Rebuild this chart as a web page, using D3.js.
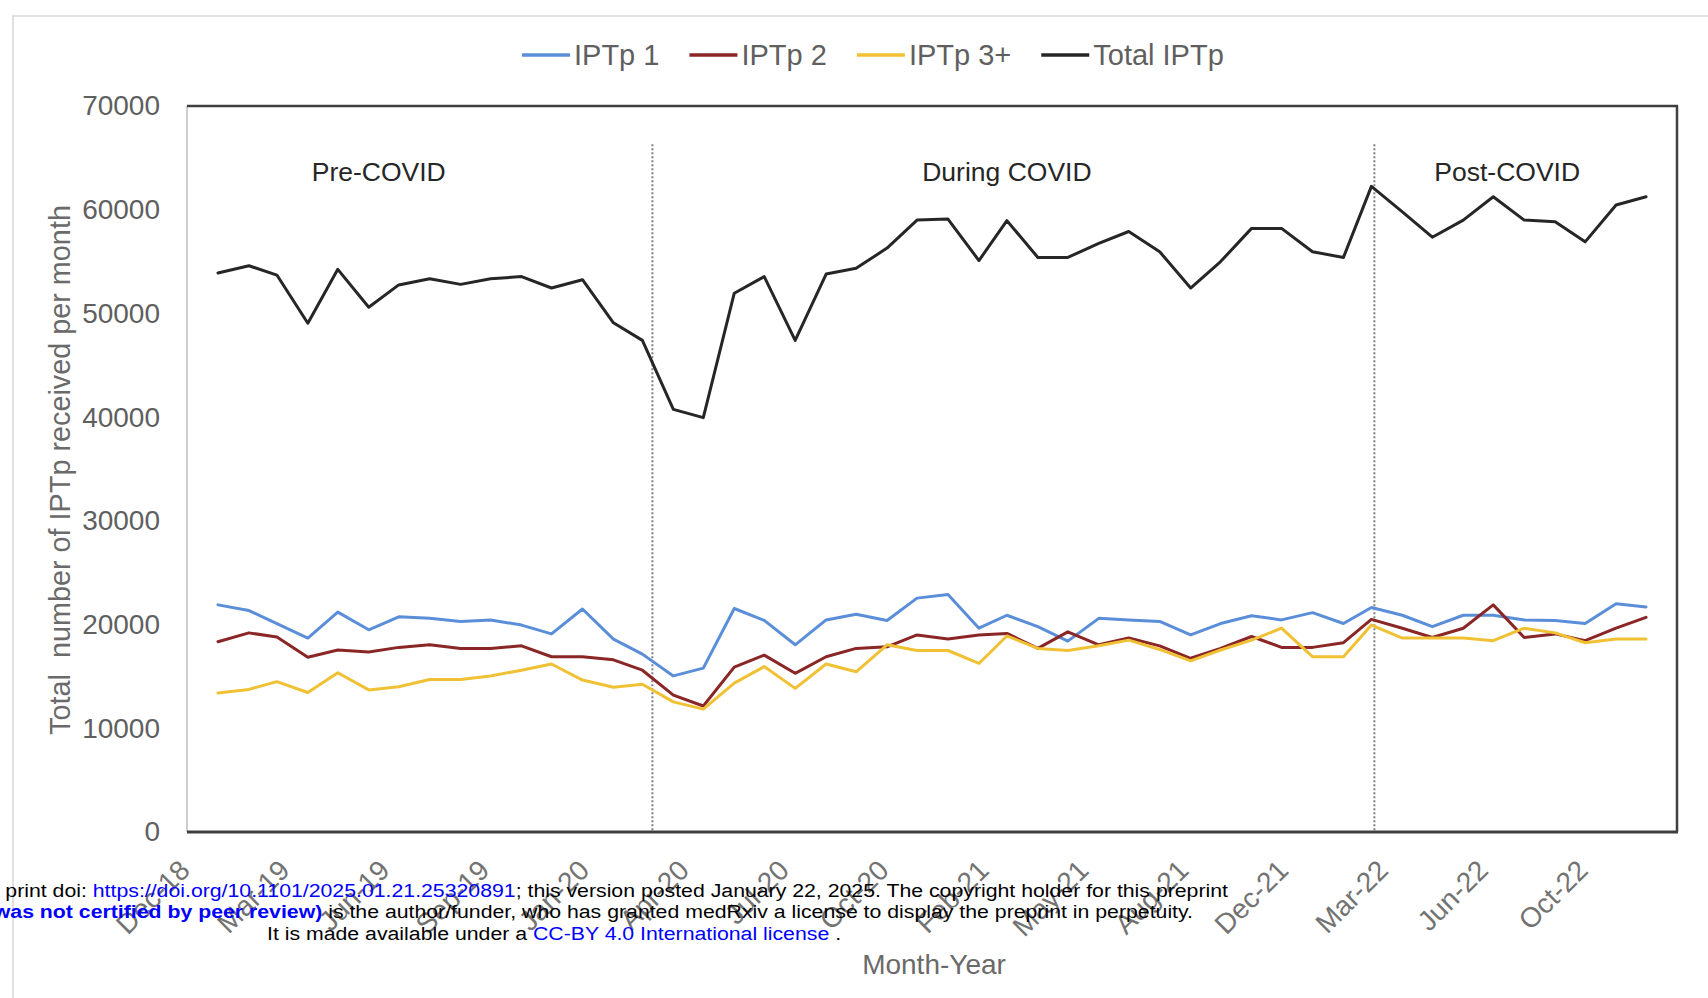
<!DOCTYPE html>
<html>
<head>
<meta charset="utf-8">
<script src="https://cdn.jsdelivr.net/npm/d3@7"></script>
<style>
  body { margin: 0; background: #fff; }
  text { font-family: "Liberation Sans", Arial, Helvetica, sans-serif; }
</style>
</head>
<body>
<svg id="chart" width="1708" height="998"></svg>
<script>
// ---------------- DATA ----------------
const months = [
  "Jan-19","Feb-19","Mar-19","Apr-19","May-19","Jun-19","Jul-19","Aug-19","Sep-19","Oct-19","Nov-19","Dec-19",
  "Jan-20","Feb-20","Mar-20","Apr-20","May-20","Jun-20","Jul-20","Aug-20","Sep-20","Oct-20","Nov-20","Dec-20",
  "Jan-21","Feb-21","Mar-21","Apr-21","May-21","Jun-21","Jul-21","Aug-21","Sep-21","Oct-21","Nov-21","Dec-21",
  "Jan-22","Feb-22","Mar-22","Apr-22","May-22","Jun-22","Jul-22","Aug-22","Sep-22","Oct-22","Nov-22","Dec-22"
];
const iptp1 = [21900,21350,20100,18700,21200,19500,20750,20600,20300,20450,19950,19100,
               21500,18600,17150,15050,15800,21550,20400,18050,20450,21000,20400,22550,
               22900,19650,20900,19800,18400,20600,20450,20300,19000,20100,20850,20450,
               21150,20100,21650,20900,19800,20900,20900,20450,20400,20100,22000,21700];
const iptp2 = [18350,19200,18800,16850,17550,17350,17800,18050,17700,17700,17950,16900,
               16900,16600,15600,13200,12150,15900,17050,15300,16900,17700,17850,19000,
               18600,19000,19150,17700,19300,18050,18700,17950,16750,17700,18850,17800,
               17800,18250,20500,19650,18750,19650,21900,18750,19100,18450,19650,20700];
const iptp3 = [13400,13750,14500,13450,15350,13700,14000,14700,14700,15050,15600,16200,
               14650,13950,14250,12550,11850,14350,15950,13850,16200,15450,18050,17500,
               17500,16250,18900,17700,17500,17950,18500,17600,16500,17550,18500,19650,
               16900,16900,19950,18700,18700,18700,18450,19650,19200,18250,18600,18600];
const totalIptp = [53900,54600,53700,49050,54250,50600,52750,53350,52800,53350,53550,52450,
               53250,49100,47400,40750,39950,51950,53550,47400,53800,54350,56300,59000,
               59100,55100,58950,55400,55400,56750,57900,55950,52450,55000,58200,58200,
               55950,55400,62250,59800,57350,59000,61250,59000,58850,56900,60450,61250];

const seriesNames  = ["IPTp 1", "IPTp 2", "IPTp 3+", "Total IPTp"];
const seriesColors = ["#5b8ed8", "#8b2626", "#f0c134", "#262626"];
const yTickValues  = [0, 10000, 20000, 30000, 40000, 50000, 60000, 70000];
const xTickLabels  = ["Dec-18","Mar-19","Jun-19","Sep-19","Jan-20","Apr-20","Jul-20","Oct-20",
                      "Feb-21","May-21","Aug-21","Dec-21","Mar-22","Jun-22","Oct-22"];
const xTickStepDays = 100;
const axisStart = "2018-12-01", axisEnd = "2023-01-01";
const periodNames = ["Pre-COVID", "During COVID", "Post-COVID"];
const periodLabelDates = ["2019-06-11", "2021-03-01", "2022-07-15"];
const periodBreakDates = ["2020-03-11", "2022-03-04"];
const periodLabelValue = 62800;
const periodLineTopValue = 66300;

// ---------------- SETUP ----------------
const svg = d3.select("#chart");
const W = 1708, H = 998;
const plot = { left: 187, right: 1677, top: 106, bottom: 832 };
const parseMonth = d3.utcParse("%b-%y");
const parseDay = d3.utcParse("%Y-%m-%d");
const dates = months.map(parseMonth);

const x = d3.scaleUtc().domain([parseDay(axisStart), parseDay(axisEnd)]).range([plot.left, plot.right]);
const y = d3.scaleLinear().domain([0, 70000]).range([plot.bottom, plot.top]);

svg.append("rect").attr("width", W).attr("height", H).attr("fill", "#fff");

// outer chart border (extends off canvas at right/bottom)
svg.append("rect").attr("x", 13).attr("y", 16).attr("width", 1720).attr("height", 1000)
  .attr("fill", "none").attr("stroke", "#d6d6d6").attr("stroke-width", 1.5);

// left frame line (light)
svg.append("line").attr("x1", plot.left).attr("x2", plot.left)
  .attr("y1", plot.top).attr("y2", plot.bottom)
  .attr("stroke", "#bdbdbd").attr("stroke-width", 1.5);

// period dividers
svg.append("g").selectAll("line").data(periodBreakDates).join("line")
  .attr("x1", d => x(parseDay(d))).attr("x2", d => x(parseDay(d)))
  .attr("y1", y(periodLineTopValue)).attr("y2", plot.bottom)
  .attr("stroke", "#808080").attr("stroke-width", 2).attr("stroke-dasharray", "2,2");

// period labels
svg.append("g").selectAll("text").data(periodNames).join("text")
  .attr("x", (d, i) => x(parseDay(periodLabelDates[i])))
  .attr("y", y(periodLabelValue))
  .attr("text-anchor", "middle").attr("font-size", 26.5).attr("fill", "#262626")
  .text(d => d);

// lines
const allSeries = [iptp1, iptp2, iptp3, totalIptp];
const lineGen = d3.line().x((d, i) => x(dates[i])).y(d => y(d));
svg.append("g").selectAll("path").data(allSeries).join("path")
  .attr("d", d => lineGen(d))
  .attr("fill", "none")
  .attr("stroke", (d, i) => seriesColors[i])
  .attr("stroke-width", 3)
  .attr("stroke-linejoin", "round")
  .attr("stroke-linecap", "round");

// frame top/right/bottom
const frame = svg.append("g").attr("stroke", "#3f3f3f").attr("fill", "none");
frame.append("line").attr("x1", plot.left).attr("x2", plot.right + 1).attr("y1", plot.top).attr("y2", plot.top).attr("stroke-width", 2.5);
frame.append("line").attr("x1", plot.right).attr("x2", plot.right).attr("y1", plot.top).attr("y2", plot.bottom).attr("stroke-width", 2.5);
frame.append("line").attr("x1", plot.left).attr("x2", plot.right + 1).attr("y1", plot.bottom).attr("y2", plot.bottom).attr("stroke-width", 3);

// y axis
const yAxis = svg.append("g").attr("transform", `translate(${plot.left},0)`)
  .call(d3.axisLeft(y).tickValues(yTickValues).tickSize(0).tickPadding(27).tickFormat(d3.format("d")));
yAxis.select(".domain").remove();
yAxis.selectAll("text").attr("font-size", 28).attr("fill", "#5f5f5f")
  .attr("font-family", "Liberation Sans, Arial, sans-serif");

// x axis
const xTickDates = xTickLabels.map((_, i) => d3.utcDay.offset(parseDay(axisStart), xTickStepDays * i));
const xAxis = svg.append("g").attr("transform", `translate(0,${plot.bottom})`)
  .call(d3.axisBottom(x).tickValues(xTickDates).tickSize(0).tickFormat((d, i) => xTickLabels[i]));
xAxis.select(".domain").remove();
xAxis.selectAll("text")
  .attr("x", 0).attr("y", 0).attr("dy", 0)
  .attr("transform", "translate(4,40) rotate(-45)")
  .attr("text-anchor", "end")
  .attr("font-size", 28).attr("fill", "#737373")
  .attr("font-family", "Liberation Sans, Arial, sans-serif");

// axis titles
svg.append("text").attr("transform", "translate(70,470) rotate(-90)")
  .attr("text-anchor", "middle").attr("font-size", 28.8).attr("fill", "#6a6a6a")
  .attr("xml:space", "preserve")
  .text("Total  number of IPTp received per month");
svg.append("text").attr("x", 934).attr("y", 974)
  .attr("text-anchor", "middle").attr("font-size", 28).attr("fill", "#6a6a6a")
  .text("Month-Year");

// legend
const legend = svg.append("g");
let lx = 522;
const ly = 55;
seriesNames.forEach((name, i) => {
  legend.append("line").attr("x1", lx).attr("x2", lx + 48).attr("y1", ly).attr("y2", ly)
    .attr("stroke", seriesColors[i]).attr("stroke-width", 3.5);
  const t = legend.append("text").attr("x", lx + 52).attr("y", ly + 10)
    .attr("font-size", 29).attr("fill", "#5f5f5f").text(name);
  lx = lx + 52 + t.node().getComputedTextLength() + 30;
});

// medRxiv overlay text
const sx = 1.12;
const wm = svg.append("g").attr("transform", `scale(${sx},1)`).attr("font-size", 19);
const l1 = wm.append("text").attr("x", 1228 / sx).attr("y", 897).attr("text-anchor", "end").attr("fill", "#000");
l1.append("tspan").text("print doi: ");
l1.append("tspan").attr("fill", "#0000ff").text("https://doi.org/10.1101/2025.01.21.25320891");
l1.append("tspan").text("; this version posted January 22, 2025. The copyright holder for this preprint");
const l2 = wm.append("text").attr("x", 1193 / sx).attr("y", 918).attr("text-anchor", "end").attr("fill", "#000");
l2.append("tspan").attr("fill", "#0000ff").attr("font-weight", "bold").text("was not certified by peer review)");
l2.append("tspan").text(" is the author/funder, who has granted medRxiv a license to display the preprint in perpetuity.");
const l3 = wm.append("text").attr("x", 267 / sx).attr("y", 940).attr("fill", "#000");
l3.append("tspan").text("It is made available under a ");
l3.append("tspan").attr("fill", "#0000ff").text("CC-BY 4.0 International license");
l3.append("tspan").text(" .");
</script>
</body>
</html>
